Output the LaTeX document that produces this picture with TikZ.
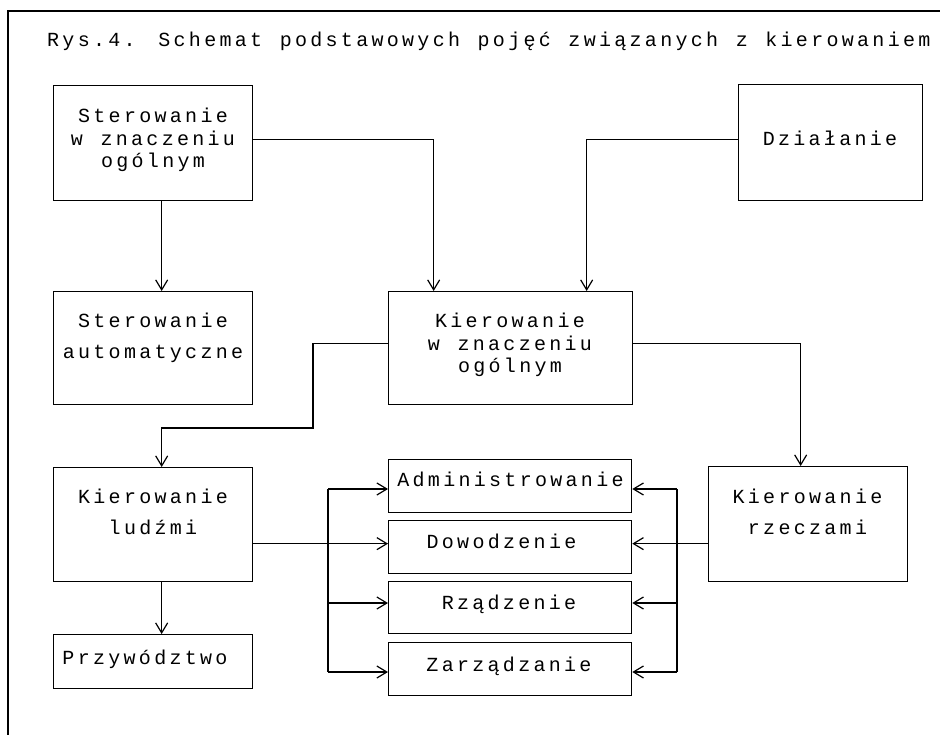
\documentclass[tikz,border=0pt]{standalone}
\usepackage{fontspec}
\newfontfamily\dmfont{Liberation Mono}[LetterSpace=16.5, WordSpace={1.15,0,0}]
\usetikzlibrary{arrows.meta}
\newcommand{\boxlines}[1]{\begin{tabular}[t]{@{}c@{}}#1\end{tabular}}
\begin{document}
\begin{tikzpicture}[x=1pt,y=-1pt,
  box/.style={draw, line width=1.3pt, inner sep=0pt, anchor=north west},
  txt/.style={font=\dmfont\fontsize{20pt}{22.5pt}\selectfont, inner sep=0pt, anchor=base},
  conn/.style={line width=1.2pt},
  arr/.style={line width=1.2pt, -{Straight Barb[length=10pt,width=12pt,line width=1.2pt]}}]
\useasboundingbox (0,0) rectangle (940,735);
\fill[white] (0,0) rectangle (940,735);
% frame
\coordinate (fbl) at (8,735);
\coordinate (ftl) at (8,11);
\coordinate (ftr) at (940,11);
\draw[conn] (fbl) -- (ftl) -- (ftr);
% title
\node[txt, anchor=base west] (title) at (47,47) {Rys.4. Schemat podstawowych pojęć związanych z kierowaniem};
% boxes
\node[box, minimum width=199pt, minimum height=115pt] (s1) at (53,85) {};
\node[box, minimum width=199pt, minimum height=113pt] (sa) at (53,291) {};
\node[box, minimum width=184pt, minimum height=116pt] (dz) at (738,84) {};
\node[box, minimum width=244pt, minimum height=113pt] (k) at (388,291) {};
\node[box, minimum width=199pt, minimum height=114pt] (kl) at (53,467) {};
\node[box, minimum width=199pt, minimum height=115pt] (kr) at (708,466) {};
\node[box, minimum width=199pt, minimum height=54pt] (pw) at (53,634) {};
\node[box, minimum width=243pt, minimum height=53pt] (adm) at (388,459) {};
\node[box, minimum width=243pt, minimum height=53pt] (dow) at (388,520) {};
\node[box, minimum width=243pt, minimum height=52pt] (rz) at (388,581) {};
\node[box, minimum width=243pt, minimum height=53pt] (zar) at (388,642) {};
% texts
\node[txt] (s1t) at (153,123) {\boxlines{Sterowanie\\w znaczeniu\\ogólnym}};
\node[txt] (sat) at (153,328) {\boxlines{Sterowanie\\[8.5pt]automatyczne}};
\node[txt] (dzt) at (830,146) {Działanie};
\node[txt] (kt) at (510,327.7) {\boxlines{Kierowanie\\w znaczeniu\\ogólnym}};
\node[txt] (klt) at (153,503) {\boxlines{Kierowanie\\[8.5pt]ludźmi}};
\node[txt] (krt) at (807.5,503) {\boxlines{Kierowanie\\[8.5pt]rzeczami}};
\node[txt] (pwt) at (145,664) {Przywództwo};
\node[txt] (admt) at (510.5,486.7) {Administrowanie};
\node[txt] (dowt) at (501.5,548) {Dowodzenie};
\node[txt] (rzt) at (509,609) {Rządzenie};
\node[txt] (zart) at (509,671) {Zarządzanie};
% connectors
\draw[arr] ([yshift=3.5pt]s1.east) -| ([xshift=-77pt]k.north);
\draw[arr] ([yshift=3pt]dz.west) -| ([xshift=76pt]k.north);
\draw[arr] ([xshift=8.5pt]s1.south) -- ([xshift=8.5pt]sa.north);
\coordinate (j1) at (313,428);
\draw[arr] ([yshift=4.5pt]k.west) -| (j1) -| ([xshift=8.5pt]kl.north);
\draw[arr] ([yshift=4.5pt]k.east) -| ([xshift=-7.5pt]kr.north);
\draw[arr] ([xshift=8.5pt]kl.south) -- ([xshift=8.5pt]pw.north);
\draw[arr] ([yshift=-19pt]kl.east) -- ([yshift=-19pt]kl.east -| dow.west);
\draw[arr] ([yshift=-19.5pt]kr.west) -- ([yshift=-19.5pt]kr.west -| dow.east);
% left bus
\coordinate (lt) at (328,489);
\coordinate (lm) at (328,603);
\coordinate (lb) at (328,672);
\draw[conn] (lt) -- (lb);
\draw[arr] (lt) -- (lt -| adm.west);
\draw[arr] (lm) -- (lm -| rz.west);
\draw[arr] (lb) -- (lb -| zar.west);
% right bus
\coordinate (rt) at (677,489);
\coordinate (rm) at (677,603);
\coordinate (rb) at (677,672);
\draw[conn] (rt) -- (rb);
\draw[arr] (rt) -- (rt -| adm.east);
\draw[arr] (rm) -- (rm -| rz.east);
\draw[arr] (rb) -- (rb -| zar.east);
\end{tikzpicture}
\end{document}
